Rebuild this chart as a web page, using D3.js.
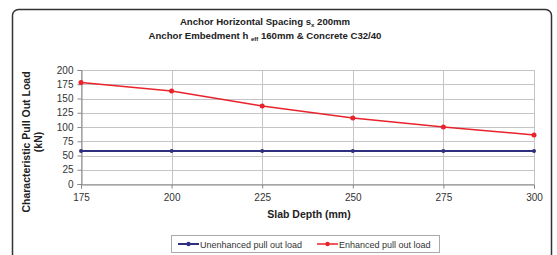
<!DOCTYPE html>
<html>
<head>
<meta charset="utf-8">
<script src="https://cdn.jsdelivr.net/npm/d3@7"></script>
<style>
  body { margin: 0; background: #fff; }
  svg { display: block; font-family: "Liberation Sans", Arial, sans-serif; }
</style>
</head>
<body>
<div id="chart"></div>
<script>
const slabDepths = [175, 200, 225, 250, 275, 300];
const unenhancedLoad = [58, 58, 58, 58, 58, 58];
const enhancedLoad = [178, 163, 137, 116, 100, 86];
const yTicks = [0, 25, 50, 75, 100, 125, 150, 175, 200];
const seriesNames = ['Unenhanced pull out load', 'Enhanced pull out load'];
const seriesColors = ['#2f2f80', '#e8232b'];

document.addEventListener('DOMContentLoaded', () => {
    const width = 557;
    const height = 255;
    const svg = d3.select('#chart').append('svg')
        .attr('width', width).attr('height', height);

    // frame round the chart
    svg.append('rect')
        .attr('x', 12.5).attr('y', 9.5)
        .attr('width', 539).attr('height', 270)
        .attr('rx', 6)
        .attr('fill', 'none').attr('stroke', '#333').attr('stroke-width', 1.5);

    // titles
    const title = svg.append('text')
        .attr('text-anchor', 'middle')
        .attr('font-size', 9.6).attr('font-weight', 'bold').attr('fill', '#222');
    const t1 = title.append('tspan').attr('x', 265).attr('y', 25);
    t1.append('tspan').text('Anchor Horizontal Spacing s');
    t1.append('tspan').attr('font-size', 6).attr('dy', 2).text('x');
    t1.append('tspan').attr('dy', -2).text(' 200mm');
    const t2 = title.append('tspan').attr('x', 265).attr('y', 38.5);
    t2.append('tspan').text('Anchor Embedment h ');
    t2.append('tspan').attr('font-size', 6).attr('dy', 2).text('eff');
    t2.append('tspan').attr('dy', -2).text(' 160mm & Concrete C32/40');

    const x = d3.scaleLinear().domain([175, 300]).range([81, 534]);
    const y = d3.scaleLinear().domain([0, 200]).range([184, 70]);

    // grid
    const grid = svg.append('g').attr('stroke', '#c4c4c4').attr('stroke-width', 1);
    grid.selectAll('.hg').data(yTicks).enter().append('line')
        .attr('x1', x(175)).attr('x2', x(300))
        .attr('y1', (d) => Math.round(y(d)) + 0.5).attr('y2', (d) => Math.round(y(d)) + 0.5);
    grid.selectAll('.vg').data(slabDepths).enter().append('line')
        .attr('x1', (d) => Math.round(x(d)) + 0.5).attr('x2', (d) => Math.round(x(d)) + 0.5)
        .attr('y1', y(200)).attr('y2', y(0));

    // axes
    const yAxis = svg.append('g')
        .attr('transform', `translate(${Math.round(x(175)) + 0.5},0)`)
        .call(d3.axisLeft(y).tickValues(yTicks).tickSize(4).tickPadding(4));
    const xAxis = svg.append('g')
        .attr('transform', `translate(0,${Math.round(y(0)) + 0.5})`)
        .call(d3.axisBottom(x).tickValues(slabDepths).tickSize(4).tickPadding(5));
    [xAxis, yAxis].forEach((ax) => {
        ax.select('.domain').attr('stroke', '#888');
        ax.selectAll('.tick line').attr('stroke', '#888');
        ax.selectAll('.tick text').attr('font-size', 10).attr('fill', '#333')
            .attr('font-family', '"Liberation Sans", Arial, sans-serif');
    });

    // axis titles
    svg.append('text')
        .attr('x', 309).attr('y', 218)
        .attr('text-anchor', 'middle')
        .attr('font-size', 10.5).attr('font-weight', 'bold').attr('fill', '#222')
        .text('Slab Depth (mm)');
    const yTitle = svg.append('text')
        .attr('transform', 'translate(30,142) rotate(-90)')
        .attr('text-anchor', 'middle')
        .attr('font-size', 10.5).attr('font-weight', 'bold').attr('fill', '#222');
    yTitle.append('tspan').attr('x', 0).attr('y', 0).text('Characteristic Pull Out Load');
    yTitle.append('tspan').attr('x', 0).attr('y', 12).text('(kN)');

    // series
    const line = d3.line().x((d) => x(d[0])).y((d) => y(d[1]));
    [unenhancedLoad, enhancedLoad].forEach((values, i) => {
        const pts = slabDepths.map((d, j) => [d, values[j]]);
        svg.append('path').datum(pts)
            .attr('d', line)
            .attr('fill', 'none')
            .attr('stroke', seriesColors[i])
            .attr('stroke-width', i === 0 ? 2 : 1.5);
        svg.selectAll(null).data(pts).enter().append('circle')
            .attr('cx', (d) => x(d[0])).attr('cy', (d) => y(d[1]))
            .attr('r', i === 0 ? 2 : 2.5)
            .attr('fill', seriesColors[i]);
    });

    // legend
    const legend = svg.append('g');
    legend.append('rect')
        .attr('x', 171.5).attr('y', 235.5).attr('width', 268).attr('height', 17)
        .attr('fill', '#fff').attr('stroke', '#aaa');
    const legendX = [178, 317];
    seriesNames.forEach((name, i) => {
        const g = legend.append('g').attr('transform', `translate(${legendX[i]},244)`);
        g.append('line').attr('x1', 0).attr('x2', 21)
            .attr('stroke', seriesColors[i]).attr('stroke-width', i === 0 ? 2 : 1.5);
        g.append('circle').attr('cx', 10.5).attr('r', 2.2).attr('fill', seriesColors[i]);
        g.append('text').attr('x', 22).attr('y', 3.5)
            .attr('font-size', 9).attr('fill', '#333').text(name);
    });
});
</script>
</body>
</html>
